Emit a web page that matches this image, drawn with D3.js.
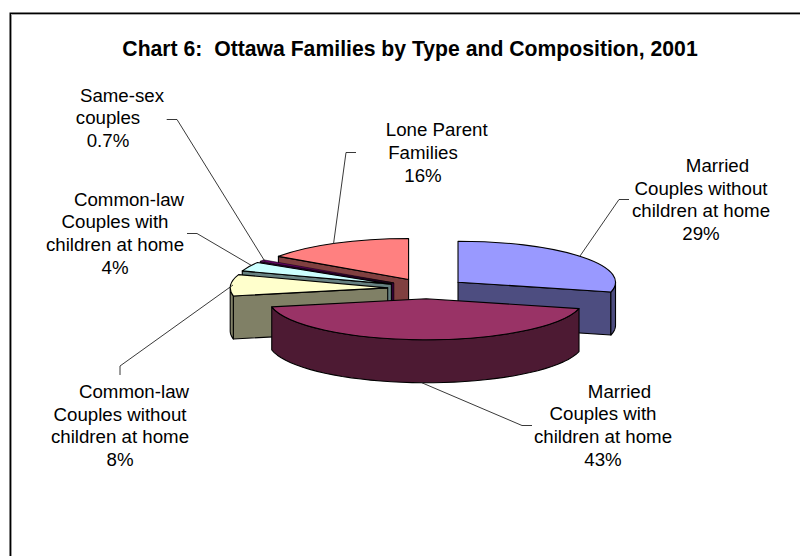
<!DOCTYPE html>
<html>
<head>
<meta charset="utf-8">
<script src="https://cdnjs.cloudflare.com/ajax/libs/d3/7.8.5/d3.min.js"></script>
<style>
html,body{margin:0;padding:0;background:#fff;overflow:hidden}
svg{display:block}
text{font-family:"Liberation Sans",Arial,sans-serif;fill:#000;white-space:pre}
</style>
</head>
<body>
<svg id="chart" width="800" height="556"></svg>
<script>
const title = "Chart 6:  Ottawa Families by Type and Composition, 2001";
const categories = [
  "Married Couples without children at home",
  "Married Couples with children at home",
  "Common-law Couples without children at home",
  "Common-law Couples with children at home",
  "Same-sex couples",
  "Lone Parent Families"
];
// Shares read from the drawn wedges; each rounds to its printed label
const values = [28.9, 43, 8.4, 3.6, 0.7, 15.5];
const valueLabels = ["29%", "43%", "8%", "4%", "0.7%", "16%"];
const topColors = ["#9999FF", "#993366", "#FFFFCC", "#CCFFFF", "#660066", "#FF8080"];
const sideColors = ["#4D4D80", "#4D1A33", "#808066", "#668080", "#330033", "#804040"];
const strokeWidths = [1.1, 1.1, 1.1, 1.1, 0.5, 1.1];

// Label layout: text lines with their centre x and baseline y
const labelLines = [
  [["Married", 717.5, 172], ["Couples without", 701, 194.7], ["children at home", 701, 217.4], ["29%", 701, 240]],
  [["Married", 619.5, 397.7], ["Couples with", 603, 420.4], ["children at home", 603, 443], ["43%", 603, 465.7]],
  [["Common-law", 134, 398], ["Couples without", 120, 420.7], ["children at home", 120, 443.4], ["8%", 120, 466]],
  [["Common-law", 129, 205.7], ["Couples with", 115, 228.4], ["children at home", 115, 251], ["4%", 115, 273.7]],
  [["Same-sex", 122, 101.7], ["couples", 108, 124.4], ["0.7%", 108, 147.2]],
  [["Lone Parent", 436.7, 136], ["Families", 423, 158.8], ["16%", 423, 181.6]]
];
const leaderLines = [
  [[629, 199.5], [619, 199.5], [580, 256]],
  [[532, 425.5], [522, 425.5], [421.7, 382.7]],
  [[120, 375], [120, 366], [233, 285]],
  [[187, 233.5], [197, 233.5], [251.5, 265.5]],
  [[166.7, 119.5], [177, 119.5], [265, 261.5]],
  [[356, 152.5], [346, 152.5], [333.5, 244]]
];
const drawOrder = [5, 4, 3, 2, 0, 1];

const cx = 427, cy = 288.5, rx = 157.5, ry = 41, depth = 43, explode = 0.25;
const svg = d3.select("#chart");

// frame
const frame = svg.append("g");
frame.append("path").attr("d", "M11.5,556V14.5H800").attr("fill", "none").attr("stroke", "#aaa").attr("stroke-width", 1);
frame.append("path").attr("d", "M10.3,556V13.3H800").attr("fill", "none").attr("stroke", "#000").attr("stroke-width", 1.6);

svg.append("text").attr("x", 410).attr("y", 55.5).attr("text-anchor", "middle")
  .attr("font-size", 21.2).attr("font-weight", "bold").text(title);

const pie = d3.pie().sort(null).value(d => d)(values);
const arc = d3.arc().innerRadius(0).outerRadius(rx);
const line = d3.line();
const pt = (a, x0, y0, dy) => [x0 + rx * Math.sin(a), y0 - ry * Math.cos(a) + dy];

const pieG = svg.append("g").attr("stroke-linejoin", "round");
drawOrder.forEach(i => {
  const d = pie[i];
  const mid = (d.startAngle + d.endAngle) / 2;
  const ax = cx + explode * rx * Math.sin(mid);
  const ay = cy - explode * ry * Math.cos(mid);
  const g = pieG.append("g").attr("stroke", "#000").attr("stroke-width", strokeWidths[i]);

  // radial walls that face the viewer
  [[d.startAngle, -1], [d.endAngle, 1]].forEach(([a, side]) => {
    if (side * Math.sin(a) <= 0.001) return;
    const p = pt(a, ax, ay, 0);
    g.append("path").attr("fill", sideColors[i])
      .attr("d", line([[ax, ay], p, [p[0], p[1] + depth], [ax, ay + depth]]) + "Z");
  });

  // outer wall, front half only
  const from = Math.max(d.startAngle, Math.PI / 2);
  const to = Math.min(d.endAngle, 3 * Math.PI / 2);
  if (to > from) {
    const angles = d3.range(0, 41).map(k => from + (to - from) * k / 40);
    const upper = angles.map(a => pt(a, ax, ay, 0));
    const lower = angles.slice().reverse().map(a => pt(a, ax, ay, depth));
    g.append("path").attr("fill", sideColors[i]).attr("d", line(upper.concat(lower)) + "Z");
  }

  // top face
  g.append("path").attr("fill", topColors[i]).attr("d", arc(d))
    .attr("vector-effect", "non-scaling-stroke")
    .attr("transform", `translate(${ax},${ay}) scale(1,${ry / rx})`);
});

// leader lines
svg.append("g").selectAll("path").data(leaderLines).join("path")
  .attr("d", d => line(d)).attr("fill", "none").attr("stroke", "#222").attr("stroke-width", 0.9);

// labels
const labels = svg.append("g").attr("font-size", 18.7).attr("text-anchor", "middle");
labelLines.forEach((lines, i) => {
  const g = labels.append("g").attr("data-category", categories[i]);
  g.selectAll("text").data(lines).join("text")
    .attr("x", d => d[1]).attr("y", d => d[2]).text(d => d[0]);
});
</script>
</body>
</html>
